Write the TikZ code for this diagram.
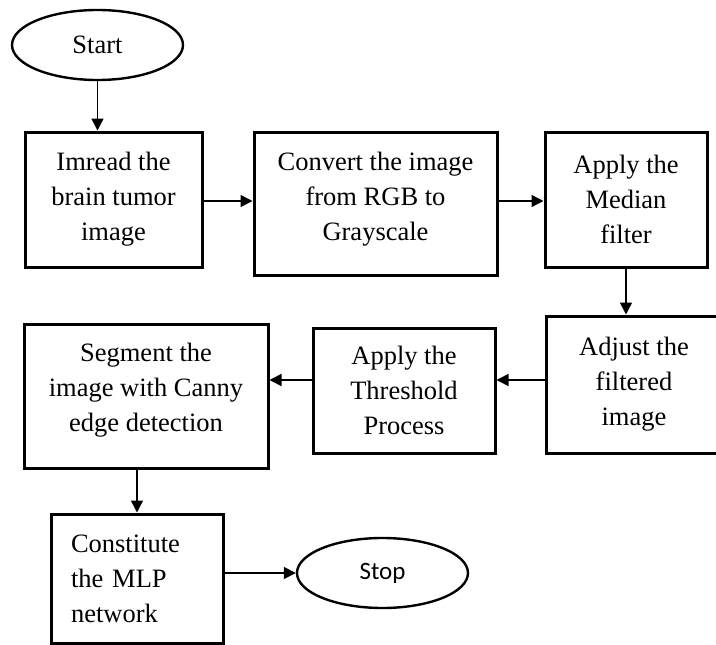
\documentclass[tikz,border=0pt]{standalone}
\usepackage{fontspec}
\setmainfont{Liberation Serif}
\newfontfamily\stopfont{Carlito}
\usetikzlibrary{arrows.meta,shapes.geometric}
\tikzset{
  procbox/.style={draw, line width=3pt, rectangle, align=center,
    font=\fontsize{26.5}{35}\selectfont, inner sep=0pt},
  terminal/.style={draw, line width=2.4pt, ellipse, inner sep=0pt,
    minimum width=171pt, minimum height=70pt},
  arr/.style={line width=1.5pt, -{Triangle[length=12pt,width=12pt]}}
}
\begin{document}
\begin{tikzpicture}[x=1pt, y=-1pt]
\useasboundingbox (0,0) rectangle (716,645);

% terminals
\node[terminal, font=\fontsize{26.5}{35}\selectfont] (start) at (97.5,45) {Start};
\node[terminal, font=\stopfont\fontsize{25}{30}\selectfont] (stop) at (382.5,573) {Stop};

% first row
\node[procbox, minimum width=177pt, minimum height=135pt] (imread) at (113.5,199.5)
  {Imread the\\brain tumor\\image};
\node[procbox, minimum width=243pt, minimum height=143pt, text depth=15pt] (gray) at (375.5,203.5)
  {Convert the image\\from RGB to\\Grayscale};
\node[procbox, minimum width=162pt, minimum height=135pt] (median) at (626,199.5)
  {Apply the\\Median\\filter};

% second row
\node[procbox, minimum width=176pt, minimum height=137pt] (adjust) at (634,384.5)
  {Adjust the\\filtered\\image};
\node[procbox, minimum width=182pt, minimum height=125pt] (thresh) at (404,390.5)
  {Apply the\\Threshold\\Process};
\node[procbox, minimum width=244pt, minimum height=144pt, text depth=18pt] (canny) at (146,396)
  {Segment the\\image with Canny\\edge detection};

% last row
\node[procbox, align=left, text width=132pt, minimum height=129pt,
  inner xsep=20pt] (mlp) at (137,578.5)
  {Constitute\\the MLP\\network};

% connector levels
\coordinate (row1) at (0,201);
\coordinate (row2) at (0,380);

\draw[arr] (start.south) -- (start.south |- imread.north);
\draw[arr] (imread.east |- row1) -- (gray.west |- row1);
\draw[arr] (gray.east |- row1) -- (median.west |- row1);
\draw[arr] (median.south) -- (median.south |- adjust.north);
\draw[arr] (adjust.west |- row2) -- (thresh.east |- row2);
\draw[arr] (thresh.west |- row2) -- (canny.east |- row2);
\draw[arr] (mlp.north |- canny.south) -- (mlp.north);
\draw[arr] (mlp.east |- stop.west) -- (stop.west);
\end{tikzpicture}
\end{document}
